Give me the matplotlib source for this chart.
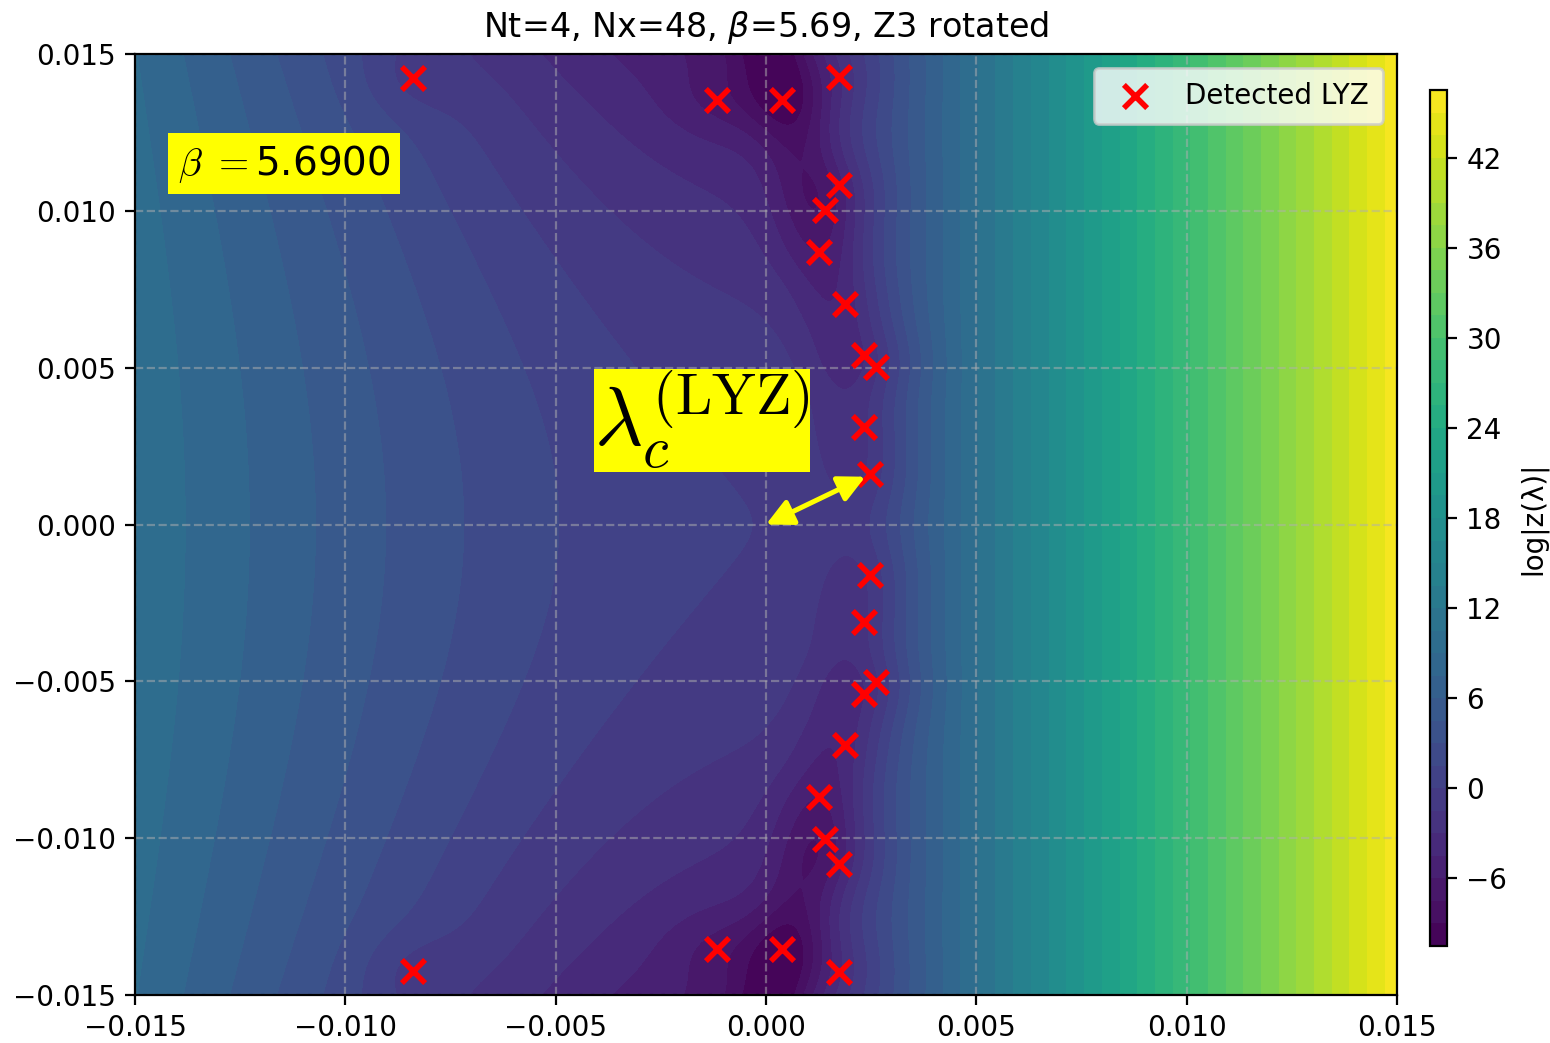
import numpy as np
import matplotlib
matplotlib.use("Agg")
import matplotlib.pyplot as plt

# ---- data -------------------------------------------------------------
beta = 5.69
nt, nx = 4, 48

# Detected Lee-Yang zeros, in units of 1e-3 (Re lambda, Im lambda)
zero_re = [-8.40, -1.17, 0.37, 1.74, 1.74, 1.40, 1.25, 1.88, 2.32, 2.62, 2.32, 2.48,
           2.48, 2.32, 2.62, 2.32, 1.88, 1.25, 1.40, 1.74, -1.17, 0.37, 1.74, -8.40]
zero_im = [14.25, 13.54, 13.54, 14.28, 10.81, 10.03, 8.70, 7.02, 5.40, 5.02, 3.10, 1.60,
           -1.60, -3.10, -5.02, -5.40, -7.02, -8.70, -10.03, -10.81, -13.54, -13.54, -14.28, -14.25]
closest_zero = 11          # zero defining lambda_c^(LYZ)

# two-phase model of log|Z(lambda)| (lambda in units of 1e-3)
conf_quad, conf_cubic = 0.07, 0.00165        # confined branch, real direction
conf_im_quad, conf_im_mix = 0.03, 0.00167    # confined branch, imaginary direction
deconf_offset, deconf_slope = -7.5, 3.57     # deconfined branch
valley_base, valley_edge = 1.2, 3.0          # cancellation depth at Im=0 / at |Im|=15
valley_width = 3.6
dip_depth, dip_width = 1.3, 0.9              # local dips at detected zeros

levels = np.arange(-10.5, 46.6, 1.5)
xticks = [-0.015, -0.010, -0.005, 0.000, 0.005, 0.010, 0.015]
yticks = [-0.015, -0.010, -0.005, 0.000, 0.005, 0.010, 0.015]

# ---- field ------------------------------------------------------------
re = np.linspace(-0.015, 0.015, 420)
im = np.linspace(-0.015, 0.015, 420)
X, Y = np.meshgrid(re, im)
u, v = X * 1e3, Y * 1e3

L = conf_quad * u**2 + conf_cubic * u**3 - v**2 * (conf_im_quad + conf_im_mix * u)
R = deconf_offset + deconf_slope * u
depth = valley_base + valley_edge * (v / 15.0) ** 2
F = np.logaddexp(L, R) - depth * np.exp(-((R - L) / valley_width) ** 2)
for zr, zi in zip(zero_re, zero_im):
    F -= dip_depth * np.exp(-((u - zr) ** 2 + (v - zi) ** 2) / (2 * dip_width ** 2))
F = np.clip(F, levels[0] + 1e-3, levels[-1] - 1e-3)

# ---- figure -----------------------------------------------------------
fig = plt.figure(figsize=(7.75, 5.215), dpi=200)
ax = fig.add_axes([135 / 1550, 1 - 995 / 1043, 1262 / 1550, 941 / 1043])
cax = fig.add_axes([1430 / 1550, 1 - 946 / 1043, 17 / 1550, 856 / 1043])

cf = ax.contourf(X, Y, F, levels=levels, cmap="viridis")
ax.scatter(np.array(zero_re) * 1e-3, np.array(zero_im) * 1e-3, marker="x",
           c="red", s=70, linewidths=2.0, zorder=3, label="Detected LYZ")

ax.set_xlim(-0.015, 0.015)
ax.set_ylim(-0.015, 0.015)
ax.set_xticks(xticks)
ax.set_yticks(yticks)
ax.grid(True, linestyle="--", alpha=0.5)
ax.set_title(f"Nt={nt}, Nx={nx}, $\\beta$={beta}, Z3 rotated", fontsize=12)
ax.legend(loc="upper right", borderpad=0.5)

lam_c = (zero_re[closest_zero] * 1e-3, zero_im[closest_zero] * 1e-3)
ax.annotate("", xy=lam_c, xytext=(0.0, 0.0),
            arrowprops=dict(arrowstyle="<|-|>", color="yellow", lw=1.8,
                            mutation_scale=20, shrinkA=0, shrinkB=2),
            zorder=4)
ax.text(-0.0041, 0.00247, r"$\lambda_c^{(\mathrm{LYZ})}$", fontsize=30,
        math_fontfamily="cm", va="baseline", ha="left",
        bbox=dict(boxstyle="square,pad=0.0", facecolor="yellow", edgecolor="none"),
        zorder=5)
ax.text(-0.01398, 0.01115, rf"$\beta\ =${beta:.4f}", fontsize=14,
        math_fontfamily="cm", va="baseline", ha="left",
        bbox=dict(boxstyle="square,pad=0.25", facecolor="yellow", edgecolor="none"),
        zorder=5)

cbar = fig.colorbar(cf, cax=cax)
cbar.set_label("log|z(λ)|")

fig.savefig("out.png", dpi=200)
